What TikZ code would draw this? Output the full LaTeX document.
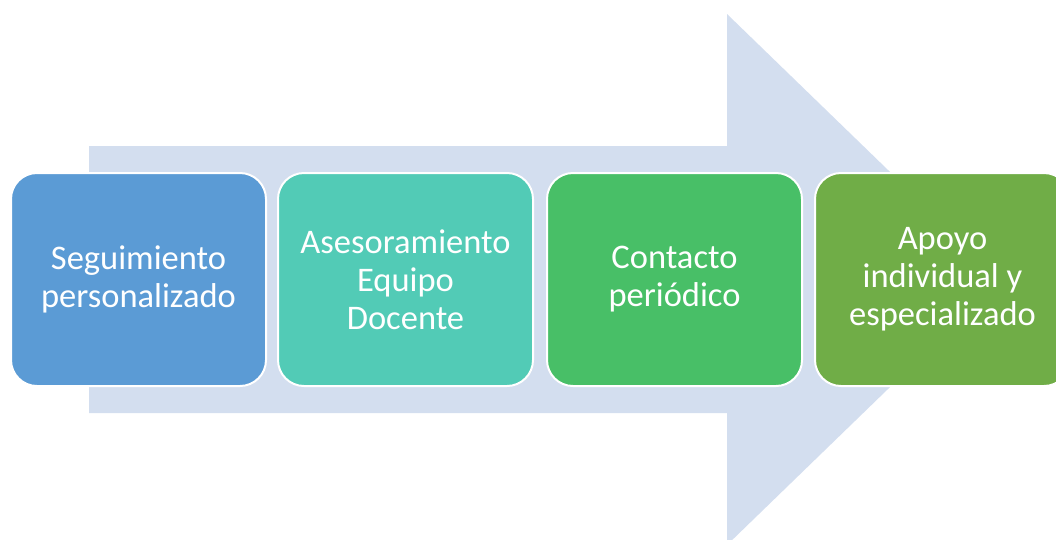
\documentclass[tikz,border=0pt]{standalone}
\usepackage{fontspec}
\setmainfont{Carlito}
\definecolor{arrowc}{HTML}{D3DEEF}
\definecolor{cA}{HTML}{5B9BD5}
\definecolor{cB}{HTML}{52CBB6}
\definecolor{cC}{HTML}{48BF67}
\definecolor{cD}{HTML}{70AD47}
\tikzset{
  stepbox/.style={rectangle, rounded corners=26pt, minimum width=255pt, minimum height=213pt,
    draw=white, line width=2pt, text=white, align=center,
    font=\fontsize{34.5}{38}\selectfont, inner sep=0pt},
}
\begin{document}
\begin{tikzpicture}[x=1pt,y=-1pt]
\useasboundingbox (0,0) rectangle (1056,539);
\clip (0,0) rectangle (1056,539);
\fill[arrowc] (89,146) -- (727,146) -- (727,14) -- (1001,279.5) -- (727,545) -- (727,413) -- (89,413) -- cycle;
\node[stepbox, fill=cA] (s1) at (138.5,279.5) {Seguimiento\\personalizado};
\node[stepbox, fill=cB] (s2) at (405.5,279.5) {Asesoramiento\\Equipo\\Docente};
\node[stepbox, fill=cC] (s3) at (674.5,279.5) {Contacto\\periódico};
\node[stepbox, fill=cD] (s4) at (942.5,279.5) {Apoyo\\individual y\\especializado};
\end{tikzpicture}
\end{document}
